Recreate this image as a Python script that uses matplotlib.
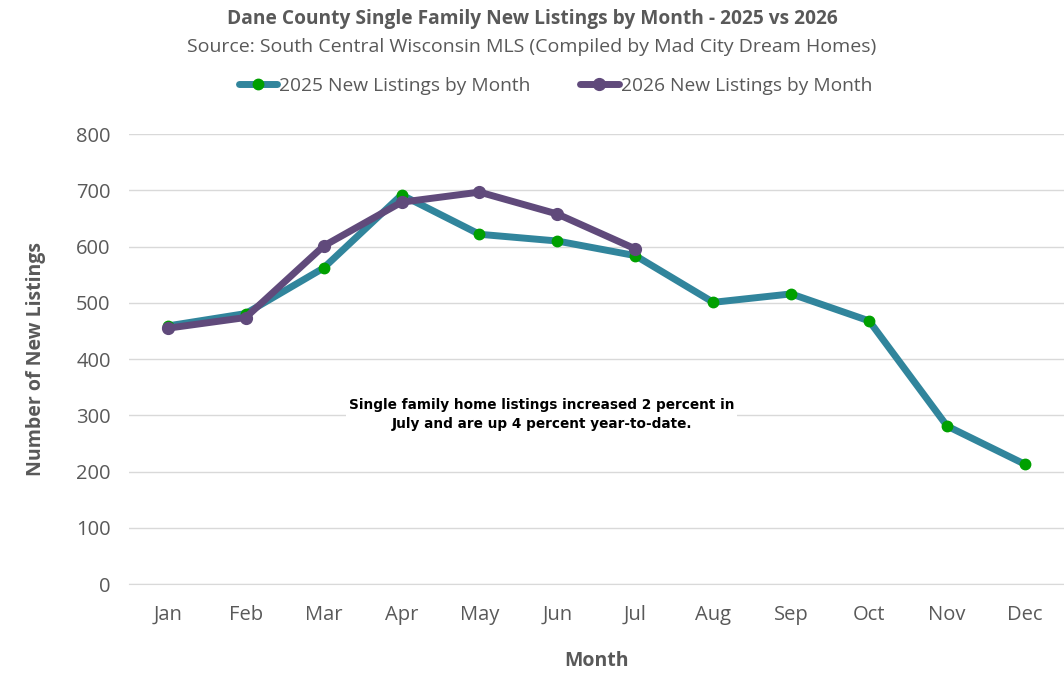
import matplotlib.pyplot as plt

# data
months = ["Jan", "Feb", "Mar", "Apr", "May", "Jun", "Jul", "Aug", "Sep", "Oct", "Nov", "Dec"]
listings_2025 = [459, 481, 562, 692, 622, 610, 584, 501, 516, 468, 281, 213]
listings_2026 = [455, 474, 601, 679, 697, 658, 596]

plt.rcParams['font.family'] = ['Open Sans', 'DejaVu Sans']
grey = "#595959"

fig = plt.figure(figsize=(10.64, 6.88), dpi=100)
ax = fig.add_axes([0.121, 0.151, 0.879, 0.654])

x25 = list(range(len(listings_2025)))
x26 = list(range(len(listings_2026)))
ax.plot(x25, listings_2025, color="#31859C", linewidth=5, marker="o",
        markersize=7.5, markerfacecolor="#00A000", markeredgecolor="#00A000",
        label="2025 New Listings by Month", zorder=3, solid_capstyle="round")
ax.plot(x26, listings_2026, color="#604A7B", linewidth=5, marker="o",
        markersize=8.5, markerfacecolor="#604A7B", markeredgecolor="#604A7B",
        label="2026 New Listings by Month", zorder=4, solid_capstyle="round")

ax.set_xlim(-0.5, 11.5)
ax.set_ylim(0, 800)
ax.set_yticks(range(0, 801, 100))
ax.set_xticks(range(12))
ax.set_xticklabels(months)
ax.tick_params(axis="both", length=0, labelsize=14.5, labelcolor=grey)
ax.tick_params(axis="x", pad=15)
ax.tick_params(axis="y", pad=13)
ax.grid(axis="y", color="#D9D9D9", linewidth=1)
ax.set_axisbelow(True)
for s in ["top", "right", "left"]:
    ax.spines[s].set_visible(False)
ax.spines["bottom"].set_color("#D9D9D9")

ax.set_xlabel("Month", fontsize=14, fontweight="bold", color=grey, labelpad=19)
ax.set_ylabel("Number of New Listings", fontsize=14, fontweight="bold", color=grey, labelpad=22)

fig.text(0.5, 0.972, "Dane County Single Family New Listings by Month - 2025 vs 2026",
         ha="center", va="center", fontsize=13.8, fontweight="bold", color=grey)
fig.text(0.5, 0.932, "Source: South Central Wisconsin MLS (Compiled by Mad City Dream Homes)",
         ha="center", va="center", fontsize=14, color=grey)

fig.legend(loc="center", bbox_to_anchor=(0.522, 0.875), ncol=2, frameon=False,
           fontsize=13.8, labelcolor=grey, handlelength=2.0, handletextpad=0.1,
           columnspacing=2.6)

ax.text(4.8, 302, "Single family home listings increased 2 percent in\nJuly and are up 4 percent year-to-date.",
        ha="center", va="center", fontsize=9.8, fontweight="bold", color="black",
        family="DejaVu Sans", linespacing=1.45,
        bbox=dict(facecolor="white", edgecolor="none", pad=2))

fig.savefig("out.png", dpi=100)
